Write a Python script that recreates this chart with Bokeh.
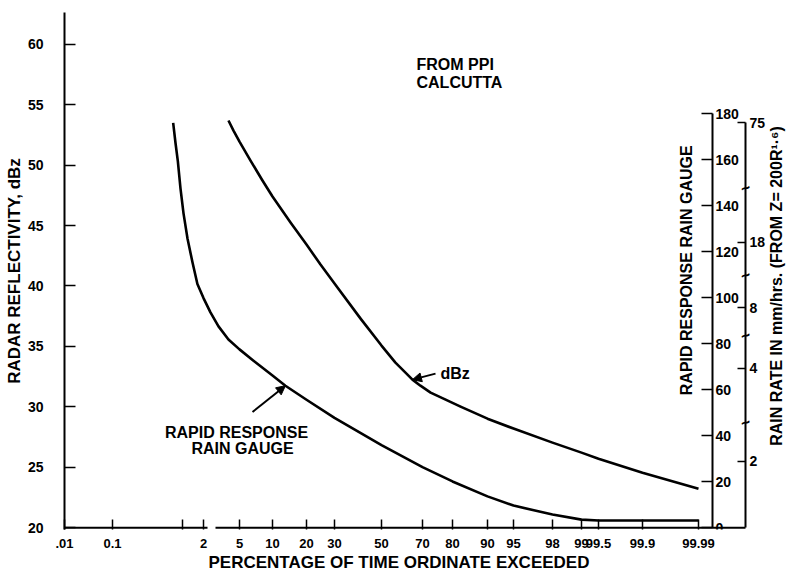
import numpy as np
from bokeh.plotting import figure
from bokeh.models import Range1d, LinearAxis, FixedTicker, Label, Arrow, NormalHead, Title
from bokeh.embed import file_html
from bokeh.resources import INLINE

FONT = "Liberation Sans"

# ---- x axis: probability paper (percent of time ordinate exceeded) ----
pct_ticks = [0.01, 0.1, 1, 2, 5, 10, 20, 30, 50, 70, 80, 90, 95, 98, 99, 99.5, 99.9, 99.99]
pct_labels = [".01", "0.1", "", "2", "5", "10", "20", "30", "50", "70", "80", "90",
              "95", "98", "99", "99.5", "99.9", "99.99"]
paper_pos = [0, 48, 118, 139, 175, 208, 242, 270, 317, 358, 388, 423, 449, 488, 517, 534, 578, 634]
x_break = (143, 151)          # gap drawn in the x axis line (paper units)
X_END = 681                   # paper position of the rain-rate axis
X_MAX = 723                   # right edge of the drawing area

# ---- y axes ----
dbz_ticks = [20, 25, 30, 35, 40, 45, 50, 55, 60]
gauge_ticks = [0, 20, 40, 60, 80, 100, 120, 140, 160, 180]
GAUGE_AXIS_AT = 648           # paper position of the rain gauge axis
GAUGE_FULL_DBZ = 54.27        # dBz level aligned with gauge reading 180
rain_rate_labels = ["2", "4", "8", "18", "75"]
rain_rate_dbz = [25.5, 33.2, 38.2, 43.6, 53.5]
rain_breaks_dbz = [28.7, 35.9, 40.9, 48.1]

# ---- curves ----
dbz_pct = [4.08, 4.5, 5, 6.67, 8.48, 10, 15.3, 20, 25, 30, 41.1, 50, 56.8, 61.7, 65.1,
           69.0, 72.7, 77.7, 82.3, 90, 95, 98, 99, 99.5, 99.9, 99.99]
dbz_val = [53.69, 52.86, 51.95, 50.38, 48.73, 47.40, 45.25, 43.43, 41.77, 40.20, 37.30,
           35.07, 33.66, 32.83, 32.25, 31.75, 31.18, 30.60, 30.02, 29.02, 28.20, 27.04,
           26.21, 25.71, 24.55, 23.23]
gauge_pct = [0.88, 0.91, 0.94, 0.974, 1.05, 1.24, 1.48, 1.71, 2.0, 2.58, 3.25, 4.08, 5,
             7.12, 10, 13.8, 20, 30, 50, 70, 80, 90, 95, 98, 99, 99.5, 99.9, 99.99]
gauge_val = [175.9, 167.2, 159.3, 147.5, 136.5, 125.6, 115.1, 105.9, 99.8, 93.6, 87.5,
             81.8, 77.5, 72.6, 66.1, 61.7, 55.6, 47.7, 35.9, 26.3, 20.1, 13.6, 9.6, 5.7,
             3.5, 3.1, 3.1, 3.1]


def to_paper(pct):
    return np.interp(pct, pct_ticks, paper_pos)


Y0, Y1 = 19.85, 62.63
g_per_db = 180.0 / (GAUGE_FULL_DBZ - 20)

p = figure(width=787, height=573, output_backend="svg", toolbar_location=None,
           x_range=Range1d(0, X_MAX), y_range=Range1d(Y0, Y1),
           x_axis_type=None, y_axis_type=None,
           min_border_left=64, min_border_right=0, min_border_top=12, min_border_bottom=44)
p.extra_y_ranges = {"gauge": Range1d((Y0 - 20) * g_per_db, (Y1 - 20) * g_per_db)}
p.outline_line_color = None
p.background_fill_color = "white"
p.border_fill_color = "white"


def style_axis(ax, size="14px"):
    ax.major_label_text_font = FONT
    ax.major_label_text_font_style = "bold"
    ax.major_label_text_font_size = size
    ax.major_label_text_color = "black"
    ax.axis_label_text_font = FONT
    ax.axis_label_text_font_style = "bold"
    ax.axis_label_text_font_size = "17px"
    ax.axis_label_text_color = "black"
    ax.axis_line_color = "black"
    ax.axis_line_width = 2
    ax.major_tick_line_color = "black"
    ax.major_tick_line_width = 1.5
    ax.minor_tick_line_color = None
    ax.major_tick_out = 0


# x axis (its line is drawn separately, with the break)
xaxis = LinearAxis(ticker=FixedTicker(ticks=paper_pos),
                   major_label_overrides={pos: lab for pos, lab in zip(paper_pos, pct_labels)})
style_axis(xaxis, "13px")
xaxis.axis_line_color = None
xaxis.major_tick_in = 10
xaxis.major_label_standoff = 9
p.add_layout(xaxis, "below")
p.add_layout(Title(text="PERCENTAGE OF TIME ORDINATE EXCEEDED", align="left", offset=144,
                   standoff=1, text_font=FONT, text_font_style="bold",
                   text_font_size="17px", text_color="black"), "below")

# left dBz axis
yaxis = LinearAxis(ticker=FixedTicker(ticks=dbz_ticks), axis_label="RADAR REFLECTIVITY, dBz")
style_axis(yaxis)
yaxis.major_tick_in = 11
yaxis.major_label_standoff = 21
yaxis.axis_label_standoff = 1
p.add_layout(yaxis, "left")

# rain rate axis
rain_axis = LinearAxis(ticker=FixedTicker(ticks=rain_rate_dbz),
                       major_label_overrides={d: lab for d, lab in zip(rain_rate_dbz, rain_rate_labels)},
                       fixed_location=X_END, bounds=(20, rain_rate_dbz[-1]))
style_axis(rain_axis)
rain_axis.major_tick_in = 8
rain_axis.major_label_standoff = 4
p.add_layout(rain_axis, "right")

# rapid response rain gauge axis
gauge_axis = LinearAxis(y_range_name="gauge", ticker=FixedTicker(ticks=gauge_ticks),
                        fixed_location=GAUGE_AXIS_AT, bounds=(0, 180))
style_axis(gauge_axis)
gauge_axis.major_tick_in = 11
gauge_axis.major_label_standoff = 3
p.add_layout(gauge_axis, "right")

# x axis line with break
p.segment(x0=[0, x_break[1]], x1=[x_break[0], X_END], y0=[20, 20], y1=[20, 20],
          line_color="black", line_width=2)

# curves
p.line(to_paper(dbz_pct), dbz_val, line_color="black", line_width=2.6, line_join="round")
p.line(to_paper(gauge_pct), gauge_val, y_range_name="gauge", line_color="black",
       line_width=2.6, line_join="round")

# axis breaks on rain-rate axis
for d in rain_breaks_dbz:
    p.add_layout(Label(x=X_END, y=d, text="~", angle=0.35, text_align="center",
                       text_baseline="middle", text_font=FONT, text_font_style="bold",
                       text_font_size="16px", text_color="black"))


def lab(x, y, t, align="left", angle=0.0, size="16px"):
    p.add_layout(Label(x=x, y=y, text=t, text_align=align, text_baseline="middle",
                       angle=angle, text_font=FONT, text_font_style="bold",
                       text_font_size=size, text_color="black"))


lab(352, 58.3, "FROM PPI")
lab(352, 56.85, "CALCUTTA")
lab(376, 32.75, "dBz")
lab(172, 27.9, "RAPID RESPONSE", align="center")
lab(178, 26.55, "RAIN GAUGE", align="center")
lab(622, 41.3, "RAPID RESPONSE RAIN GAUGE", align="center", angle=np.pi / 2)
lab(712, 40.0, "RAIN RATE IN mm/hrs. (FROM Z= 200R¹·⁶)", align="center", angle=np.pi / 2)

tip_u = (float(to_paper(65.1)), float(np.interp(65.1, dbz_pct, dbz_val)))
p.add_layout(Arrow(end=NormalHead(size=9, fill_color="black", line_color="black"),
                   x_start=371, y_start=32.75, x_end=tip_u[0], y_end=tip_u[1],
                   line_width=2, line_color="black"))
tip_l = (float(to_paper(13.8)), float(np.interp(13.8, gauge_pct, gauge_val)))
p.add_layout(Arrow(end=NormalHead(size=9, fill_color="black", line_color="black"),
                   x_start=188, y_start=50.3, x_end=tip_l[0], y_end=tip_l[1],
                   line_width=2, line_color="black", y_range_name="gauge"))

open("out.html", "w").write(file_html(p, INLINE))
